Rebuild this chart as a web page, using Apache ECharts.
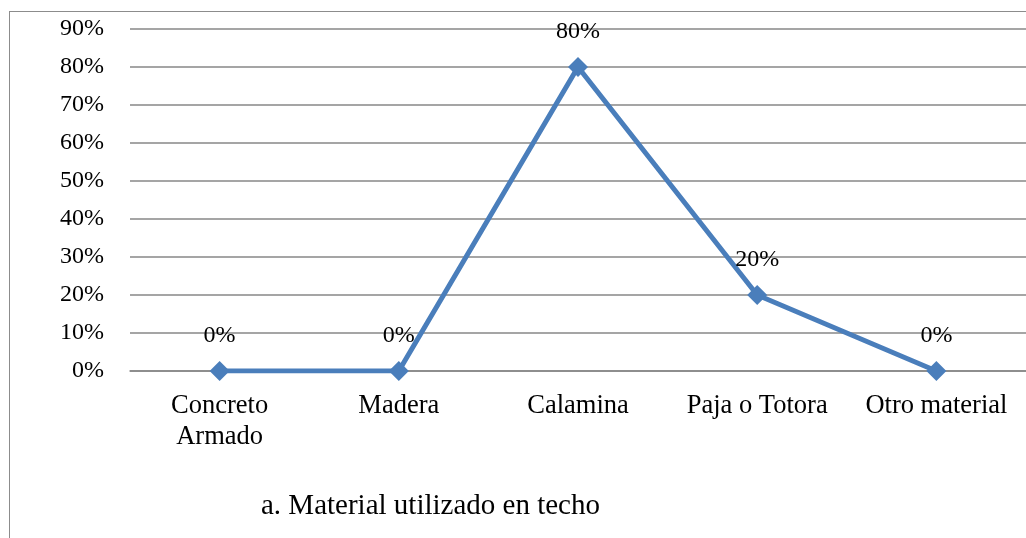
<!DOCTYPE html>
<html>
<head>
<meta charset="utf-8">
<script src="https://cdn.jsdelivr.net/npm/echarts@6/dist/echarts.min.js"></script>
<style>
  html, body { margin: 0; padding: 0; background: #fff; }
  #frame { position: absolute; left: 9px; top: 11px; width: 1030px; height: 540px; border: 1px solid #8c8c8c; box-sizing: border-box; }
  #chart { position: absolute; left: 0; top: 0; width: 1026px; height: 538px; }
</style>
</head>
<body>
<div id="frame"></div>
<div id="chart"></div>
<script>
// materiales del techo
const categories = ['Concreto\nArmado', 'Madera', 'Calamina', 'Paja o Totora', 'Otro material'];
const values = [0, 0, 80, 20, 0];
const chartTitle = 'a. Material utilizado en techo';

const font = 'Liberation Serif';
const chart = echarts.init(document.getElementById('chart'));
chart.setOption({
  animation: false,
  textStyle: { fontFamily: font },
  title: {
    text: chartTitle,
    left: 256,
    top: 487,
    textStyle: { fontFamily: font, fontSize: 29, fontWeight: 'normal', color: '#000' },
  },
  grid: { left: 130, top: 29, width: 900, height: 342, containLabel: false },
  xAxis: {
    type: 'category',
    data: categories,
    axisLine: { show: true, lineStyle: { color: '#878787', width: 1.5 } },
    axisTick: { show: false },
    axisLabel: {
      interval: 0,
      hideOverlap: false,
      color: '#000',
      fontSize: 26.5,
      fontFamily: font,
      margin: 20,
      lineHeight: 31,
    },
  },
  yAxis: {
    type: 'value',
    min: 0,
    max: 90,
    interval: 10,
    axisLine: { show: false },
    axisTick: { show: false },
    axisLabel: { color: '#000', fontSize: 24, fontFamily: font, margin: 26, formatter: '{value}%' },
    splitLine: { lineStyle: { color: '#878787', width: 1.5 } },
  },
  series: [
    {
      type: 'line',
      data: values,
      symbol: 'diamond',
      symbolSize: 20,
      itemStyle: { color: '#4a7ebb' },
      lineStyle: { color: '#4a7ebb', width: 5 },
      label: {
        show: true,
        position: 'top',
        distance: 13,
        formatter: '{c}%',
        color: '#000',
        fontSize: 24,
        fontFamily: font,
      },
    },
  ],
});
</script>
</body>
</html>
